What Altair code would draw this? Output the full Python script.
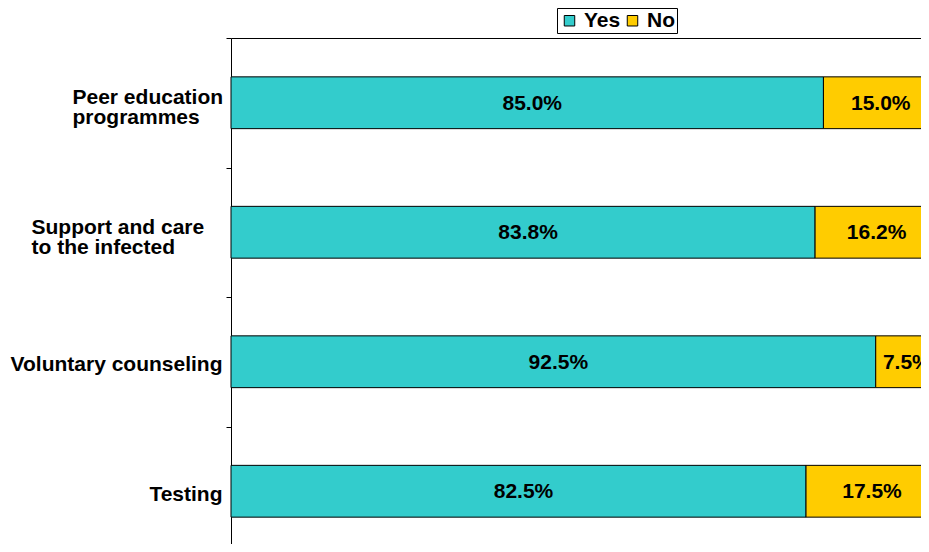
import altair as alt
import pandas as pd

categories = ["Peer education programmes", "Support and care to the infected",
              "Voluntary counseling", "Testing"]
yes_values = [85.0, 83.8, 92.5, 82.5]
no_values = [15.0, 16.2, 7.5, 17.5]
series = ["Yes", "No"]
colors = ["#33CCCC", "#FFCC00"]

rows = []
for c, y, n in zip(categories, yes_values, no_values):
    rows.append({"category": c, "answer": "Yes", "value": y, "order": 0})
    rows.append({"category": c, "answer": "No", "value": n, "order": 1})
df = pd.DataFrame(rows)

FONT = "Liberation Sans"
FS = 21

label_expr = ("datum.value == 'Peer education programmes' ? ['Peer education', 'programmes'] : "
              "datum.value == 'Support and care to the infected' ? ['Support and care', 'to the infected'] : "
              "datum.value")

peer_test = "datum.value == 'Peer education programmes'"
support_test = "datum.value == 'Support and care to the infected'"
two_line_test = peer_test + " || " + support_test

y_enc = alt.Y("category:N", sort=categories, title=None,
              scale=alt.Scale(paddingInner=0.6, paddingOuter=0.3, range=[0, 518]),
              axis=alt.Axis(labelExpr=label_expr, labelFont=FONT, labelFontSize=FS,
                            labelFontWeight="bold", labelColor="#000",
                            labelAlign={"condition": {"test": two_line_test, "value": "left"},
                                        "value": "right"},
                            labelPadding={"condition": [{"test": peer_test, "value": 154},
                                                        {"test": support_test, "value": 195}],
                                          "value": 4},
                            labelLineHeight=20, labelLimit=260,
                            labelOffset={"condition": {"test": two_line_test, "value": 59.75},
                                         "value": 67.75},
                            tickColor="#000", tickSize=5, domainColor="#000",
                            tickOffset=-64.75, grid=False))

base = alt.Chart(df).transform_stack(
    stack="value", as_=["x0", "x1"], groupby=["category"],
    sort=[alt.SortField("order", order="ascending")]
).transform_calculate(mid="(datum.x0 + datum.x1) / 2",
                      lbl="format(datum.value, '.1f') + '%'")

bars = base.mark_bar(stroke="#000", strokeWidth=1).encode(
    y=y_enc,
    x=alt.X("x0:Q", scale=alt.Scale(domain=[0, 100], nice=False, range=[0, 697]),
            axis=alt.Axis(orient="top", labels=False, ticks=False, grid=False,
                          domainColor="#000", title=None)),
    x2="x1:Q",
    color=alt.Color("answer:N", sort=series,
                    scale=alt.Scale(domain=series, range=colors),
                    legend=alt.Legend(title=None, orient="none", direction="horizontal",
                                      legendX=326, legendY=-30, symbolType="square",
                                      symbolSize=110, symbolStrokeColor="#000",
                                      symbolStrokeWidth=1, labelFont=FONT,
                                      labelFontSize=FS, labelFontWeight="bold",
                                      labelColor="#000", columnPadding=1,
                                      symbolOffset=0, labelOffset=4,
                                      padding=2, strokeColor="#000", fillColor="#fff")),
)

text = base.mark_text(font=FONT, fontSize=FS, fontWeight="bold", color="#000", dx=5, dy=1).encode(
    y=alt.Y("category:N", sort=categories),
    x=alt.X("mid:Q"),
    text="lbl:N",
)

chart = alt.layer(bars, text).properties(
    width=690, height=506,
    padding={"left": 223, "top": 30, "right": 0, "bottom": 0},
    autosize=alt.AutoSizeParams(type="none"),
).configure_view(stroke=None).configure(background="#fff")

chart.save("out.html", embed_options={"renderer": "svg", "actions": False})
